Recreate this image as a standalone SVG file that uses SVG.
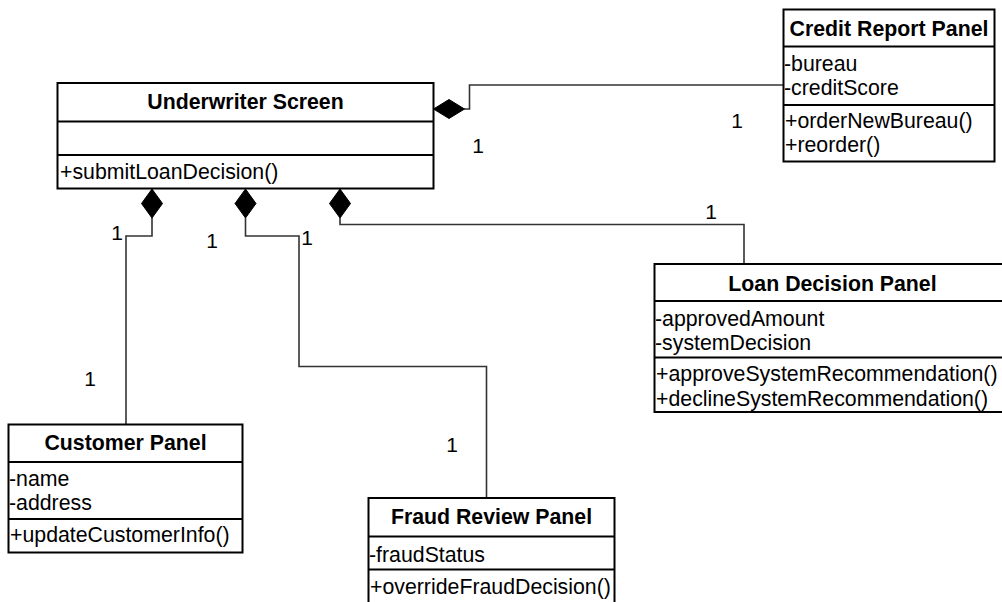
<svg xmlns="http://www.w3.org/2000/svg" width="1002" height="602" viewBox="0 0 1002 602">
<style>
.box{fill:#fff;stroke:#000;stroke-width:2}
.sep{stroke:#000;stroke-width:2}
.t{font-family:"Liberation Sans",Arial,sans-serif;font-size:21.3px;fill:#000}
.b{font-weight:bold;text-anchor:middle}
.conn{fill:none;stroke:#333;stroke-width:1.6}
.dia{fill:#000;stroke:#000;stroke-width:1}
.m{font-family:"Liberation Sans",Arial,sans-serif;font-size:21px;fill:#000;text-anchor:middle}
</style>
<rect width="1002" height="602" fill="#fff"/>
<g id="connectors">
<polyline class="conn" points="464,109 469.5,109 469.5,85 783,85"/>
<polygon class="dia" points="433.5,109 449,99.5 464.5,109 449,118.5"/>
<polyline class="conn" points="152,218 152,236 126,236 126,424"/>
<polygon class="dia" points="152,189 162.5,203.5 152,218 141.5,203.5"/>
<polyline class="conn" points="245.5,218 245.5,236 299,236 299,366.5 486.5,366.5 486.5,498"/>
<polygon class="dia" points="245.5,189 256,203.5 245.5,218 235,203.5"/>
<polyline class="conn" points="340,218 340,224.5 744,224.5 744,264"/>
<polygon class="dia" points="340,189 350.5,203.5 340,218 329.5,203.5"/>
<text class="m" x="478" y="153">1</text>
<text class="m" x="737" y="128">1</text>
<text class="m" x="117" y="240">1</text>
<text class="m" x="212" y="248">1</text>
<text class="m" x="307" y="245">1</text>
<text class="m" x="711" y="219">1</text>
<text class="m" x="90" y="386">1</text>
<text class="m" x="452" y="452">1</text>
</g>
<g id="underwriter-screen">
<rect class="box" x="57.5" y="83" width="376" height="105.5"/>
<line class="sep" x1="57.5" y1="121.5" x2="433.5" y2="121.5"/>
<line class="sep" x1="57.5" y1="155" x2="433.5" y2="155"/>
<text class="t b" x="245.5" y="109">Underwriter Screen</text>
<text class="t" x="60" y="178.5">+submitLoanDecision()</text>
</g>
<g id="credit-report-panel">
<rect class="box" x="783.5" y="9.5" width="211" height="152"/>
<line class="sep" x1="783.5" y1="46.5" x2="994.5" y2="46.5"/>
<line class="sep" x1="783.5" y1="105" x2="994.5" y2="105"/>
<text class="t b" x="889" y="35.5">Credit Report Panel</text>
<text class="t" x="784" y="70.5">-bureau</text>
<text class="t" x="784" y="95">-creditScore</text>
<text class="t" x="785" y="127.5">+orderNewBureau()</text>
<text class="t" x="785" y="152">+reorder()</text>
</g>
<g id="loan-decision-panel">
<rect class="box" x="654.5" y="264" width="356" height="148"/>
<line class="sep" x1="654.5" y1="301" x2="1010.5" y2="301"/>
<line class="sep" x1="654.5" y1="357.5" x2="1010.5" y2="357.5"/>
<text class="t b" x="832.5" y="290.5">Loan Decision Panel</text>
<text class="t" x="655" y="325.5">-approvedAmount</text>
<text class="t" x="655" y="350">-systemDecision</text>
<text class="t" x="656" y="381">+approveSystemRecommendation()</text>
<text class="t" x="656" y="405.5">+declineSystemRecommendation()</text>
</g>
<g id="customer-panel">
<rect class="box" x="8.5" y="424.5" width="234" height="128"/>
<line class="sep" x1="8.5" y1="462" x2="242.5" y2="462"/>
<line class="sep" x1="8.5" y1="519" x2="242.5" y2="519"/>
<text class="t b" x="125.5" y="450">Customer Panel</text>
<text class="t" x="9" y="485.5">-name</text>
<text class="t" x="9" y="510">-address</text>
<text class="t" x="10" y="542">+updateCustomerInfo()</text>
</g>
<g id="fraud-review-panel">
<rect class="box" x="368.5" y="498" width="246" height="110"/>
<line class="sep" x1="368.5" y1="536.5" x2="614.5" y2="536.5"/>
<line class="sep" x1="368.5" y1="569.5" x2="614.5" y2="569.5"/>
<text class="t b" x="491.5" y="524">Fraud Review Panel</text>
<text class="t" x="369" y="561.5">-fraudStatus</text>
<text class="t" x="370" y="593.5">+overrideFraudDecision()</text>
</g>
</svg>
